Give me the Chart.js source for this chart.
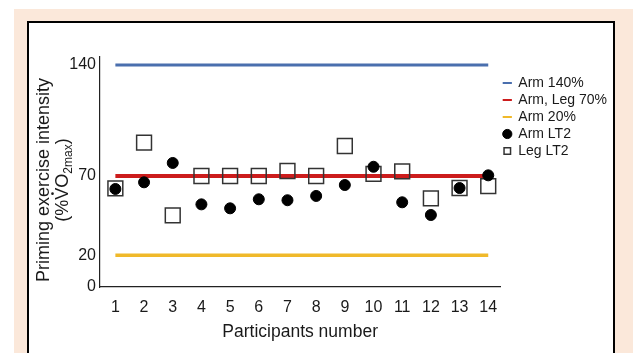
<!DOCTYPE html>
<html>
<head>
<meta charset="utf-8">
<script src="https://cdn.jsdelivr.net/npm/chart.js@4/dist/chart.umd.min.js"></script>
<style>
  html, body { margin: 0; padding: 0; background: #fff; }
  #wrap { position: relative; width: 633px; height: 353px; overflow: hidden; }
  #beige { position: absolute; left: 14px; top: 9px; width: 619px; height: 344px; background: #fbe8da; }
  #panel { position: absolute; left: 27px; top: 21px; width: 584px; height: 360px; background: #fff; border: 2px solid #000; }
  #myChart { position: absolute; left: 0; top: 0; }
</style>
</head>
<body>
<div id="wrap">
  <div id="beige"></div>
  <div id="panel"></div>
  <canvas id="myChart" width="633" height="353"></canvas>
</div>
<script>
// data
var participants = [1, 2, 3, 4, 5, 6, 7, 8, 9, 10, 11, 12, 13, 14];
var armLT2 = [61.8, 66, 78.2, 52.1, 49.6, 55.3, 54.7, 57.4, 64.3, 75.8, 53.4, 45.4, 62.4, 70.4];
var legLT2 = [62.2, 91, 45.2, 70, 70, 70, 73.1, 70, 88.9, 71.3, 72.9, 55.9, 62.4, 63.6];
var arm140 = 140;
var armLeg70 = 70;
var arm20 = 20;
var yTicks = [0, 20, 70, 140];
var seriesNames = ['Arm 140%', 'Arm, Leg 70%', 'Arm 20%', 'Arm LT2', 'Leg LT2'];
var xTitle = 'Participants number';
var yTitle = ['Priming exercise intensity', '(%VO', '2max', ')'];

var FONT = '"Liberation Sans", Arial, sans-serif';
var TXT = '#1a1a1a';

function flatLine(v) {
    var first = participants[0], last = participants[participants.length - 1];
    return [{x: first, y: v}, {x: last, y: v}];
}
function points(vals) {
    return participants.map(function (p, i) { return {x: p, y: vals[i]}; });
}

// y title with subscript and dot over V, drawn rotated
var yTitlePlugin = {
    id: 'yTitle',
    afterDraw: function (chart) {
        var ctx = chart.ctx;
        var a = chart.chartArea;
        var cy = (a.top + a.bottom) / 2 + 8;
        ctx.save();
        ctx.fillStyle = TXT;
        ctx.translate(44, cy);
        ctx.rotate(-Math.PI / 2);
        ctx.font = '18px ' + FONT;
        ctx.textAlign = 'center';
        ctx.textBaseline = 'middle';
        ctx.fillText(yTitle[0], 0, 0);
        ctx.restore();

        ctx.save();
        ctx.fillStyle = TXT;
        ctx.translate(62, cy);
        ctx.rotate(-Math.PI / 2);
        ctx.textAlign = 'left';
        ctx.textBaseline = 'alphabetic';
        var big = '18px ' + FONT, small = '12px ' + FONT;
        ctx.font = big;
        var w1 = ctx.measureText(yTitle[1]).width;
        var w3 = ctx.measureText(yTitle[3]).width;
        var wV = ctx.measureText('(%').width;
        var wVV = ctx.measureText('V').width;
        ctx.font = small;
        var w2 = ctx.measureText(yTitle[2]).width;
        var x0 = -(w1 + w2 + w3) / 2;
        var base = 6;
        ctx.font = big;
        ctx.fillText(yTitle[1], x0, base);
        ctx.beginPath();
        ctx.arc(x0 + wV + wVV / 2, base - 15.5, 1.3, 0, Math.PI * 2);
        ctx.fill();
        ctx.font = small;
        ctx.fillText(yTitle[2], x0 + w1, base + 4);
        ctx.font = big;
        ctx.fillText(yTitle[3], x0 + w1 + w2, base);
        ctx.restore();
    }
};

var ctx = document.getElementById('myChart').getContext('2d');
var myChart = new Chart(ctx, {
    type: 'scatter',
    data: {
        datasets: [{
            label: seriesNames[0],
            data: flatLine(arm140),
            showLine: true,
            borderColor: '#4a6fae',
            backgroundColor: '#4a6fae',
            borderWidth: 3,
            pointRadius: 0,
            pointStyle: 'line',
            pointBorderWidth: 2,
            order: 2
        }, {
            label: seriesNames[1],
            data: flatLine(armLeg70),
            showLine: true,
            borderColor: '#cc1c1c',
            backgroundColor: '#cc1c1c',
            borderWidth: 4,
            pointRadius: 0,
            pointStyle: 'line',
            pointBorderWidth: 2,
            order: 2
        }, {
            label: seriesNames[2],
            data: flatLine(arm20),
            showLine: true,
            borderColor: '#f0b92a',
            backgroundColor: '#f0b92a',
            borderWidth: 3.5,
            pointRadius: 0,
            pointStyle: 'line',
            pointBorderWidth: 2,
            order: 2
        }, {
            label: seriesNames[3],
            data: points(armLT2),
            pointStyle: 'circle',
            pointRadius: 5.5,
            pointBorderWidth: 1,
            borderColor: '#000',
            backgroundColor: '#000',
            order: 0
        }, {
            label: seriesNames[4],
            data: points(legLT2),
            pointStyle: 'rect',
            pointRadius: 10.5,
            pointBorderWidth: 1.5,
            borderColor: '#333',
            backgroundColor: 'rgba(255,255,255,0)',
            order: 1
        }]
    },
    options: {
        responsive: false,
        animation: false,
        layout: { padding: { top: 57, left: 0, right: 16, bottom: 0 } },
        plugins: {
            tooltip: { enabled: false },
            legend: {
                position: 'right',
                align: 'start',
                title: { display: true, text: ' ', font: { size: 10 }, padding: { top: 4, bottom: 0 } },
                labels: {
                    usePointStyle: true,
                    boxWidth: 8,
                    boxHeight: 6.5,
                    padding: 3,
                    color: TXT,
                    font: { family: FONT, size: 14 },
                    sort: function (a, b) { return a.datasetIndex - b.datasetIndex; }
                }
            }
        },
        scales: {
            x: {
                type: 'linear',
                min: 0.464,
                max: 14.42,
                grid: { display: false, drawTicks: false },
                border: { display: true, color: '#222', width: 1.2 },
                afterBuildTicks: function (scale) {
                    scale.ticks = participants.map(function (v) { return {value: v}; });
                },
                afterFit: function (scale) { scale.height = 66; },
                ticks: { color: TXT, padding: 10.7, maxRotation: 0, autoSkip: false, font: { family: FONT, size: 16 } },
                title: { display: true, text: xTitle, color: TXT, font: { family: FONT, size: 17.5 }, padding: { top: 0, bottom: 10.5 } }
            },
            y: {
                min: 0,
                max: 145,
                grid: { display: false, drawTicks: false },
                border: { display: true, color: '#222', width: 1.2 },
                afterBuildTicks: function (scale) {
                    scale.ticks = yTicks.map(function (v) { return {value: v}; });
                },
                afterFit: function (scale) { scale.width = 100; },
                ticks: { color: TXT, padding: 4, font: { family: FONT, size: 16 } }
            }
        }
    },
    plugins: [yTitlePlugin]
});
</script>
</body>
</html>
